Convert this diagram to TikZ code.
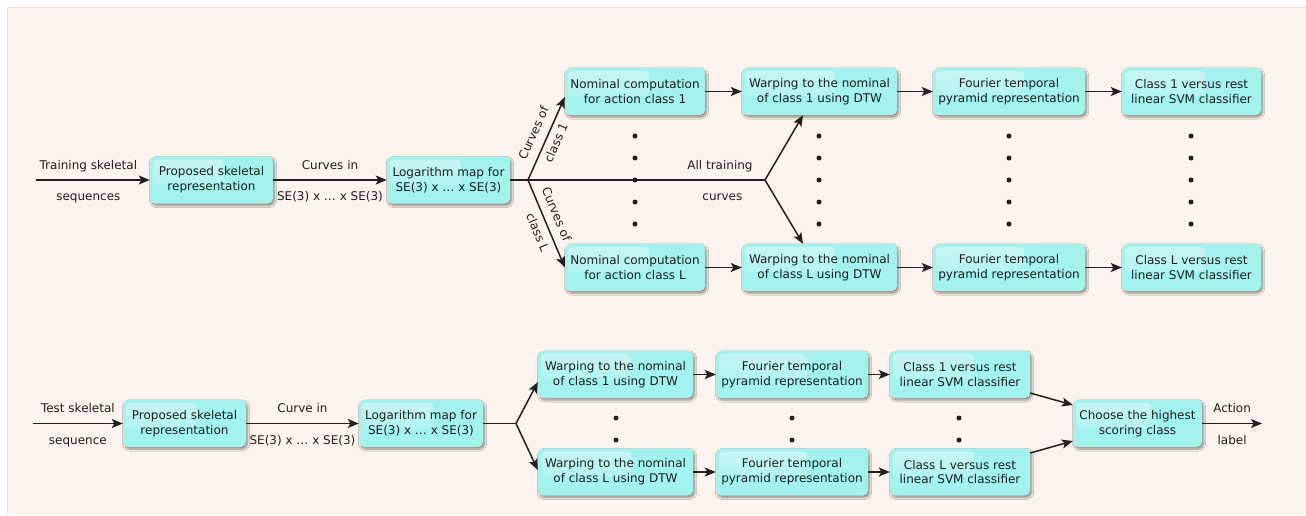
\documentclass[tikz,border=0pt]{standalone}
\usepackage{fontspec}
\setmainfont{DejaVu Sans}
\usetikzlibrary{arrows.meta,shadows.blur,calc}
\definecolor{bg}{HTML}{FDF3EE}
\definecolor{bgline}{HTML}{F4DED5}
\definecolor{boxfill}{HTML}{A2F2EE}
\definecolor{boxhi}{HTML}{C8F6F3}
\definecolor{ink}{HTML}{231F20}
\definecolor{txt}{HTML}{1E1E1E}
\begin{document}
\begin{tikzpicture}[x=1pt,y=-1pt,
  font=\fontsize{12pt}{14.7pt}\selectfont, text=txt,
  box/.style={rounded corners=5pt, fill=boxfill, align=center, inner sep=2pt, minimum height=47pt,
     blur shadow={shadow xshift=1.5pt, shadow yshift=-2pt, shadow blur steps=6, shadow opacity=45},
     path picture={\shade[top color=boxhi, bottom color=boxfill, rounded corners=4pt]
        ([shift={(3,3)}]path picture bounding box.north west) rectangle
        ($(path picture bounding box.north west)!0.6!(path picture bounding box.south east)$);}},
  conn/.style={draw=ink, line width=1.5pt, -{Stealth[length=11pt,width=9pt,inset=2.5pt]}},
  plain/.style={draw=ink, line width=1.5pt},
  lbl/.style={inner sep=0pt, text height=9pt, text depth=3pt, text=txt},
  slab/.style={lbl, sloped, inner ysep=#1},
  dot/.style={circle, fill=ink, inner sep=0pt, minimum size=5pt},
]
\useasboundingbox (0,0) rectangle (1306,515);
\fill[bg] (7,7) rectangle (1306,515);
\draw[bgline, line width=0.8pt] (1306,7) -- (7,7) -- (7,515);

% ---------------- top row ----------------
\node[box, minimum width=123pt] (P1) at (211.5,180) {Proposed skeletal\\representation};
\node[box, minimum width=123pt] (L1) at (448.5,180) {Logarithm map for\\SE(3) x … x SE(3)};
\node[box, minimum width=140pt] (N1) at (635,91.5) {Nominal computation\\for action class 1};
\node[box, minimum width=140pt] (NL) at (635,267.5) {Nominal computation\\for action class L};
\node[box, minimum width=155pt] (W1) at (819.5,91.5) {Warping to the nominal\\of class 1 using DTW};
\node[box, minimum width=155pt] (WL) at (819.5,267.5) {Warping to the nominal\\of class L using DTW};
\node[box, minimum width=152pt] (F1) at (1009,91.5) {Fourier temporal\\pyramid representation};
\node[box, minimum width=152pt] (FL) at (1009,267.5) {Fourier temporal\\pyramid representation};
\node[box, minimum width=139pt] (C1) at (1191.5,91.5) {Class 1 versus rest\\linear SVM classifier};
\node[box, minimum width=139pt] (CL) at (1191.5,267.5) {Class L versus rest\\linear SVM classifier};

\coordinate (in1) at (36,180);
\coordinate (b1) at (528,180);
\coordinate (b2) at (765,180);

\draw[conn] (in1) -- node[lbl, pos=0.46, above=7pt]{Training skeletal} node[lbl, pos=0.46, below=11pt]{sequences} (P1);
\draw[conn] (P1) -- node[lbl, above=7pt]{Curves in} node[lbl, below=11pt]{SE(3) x … x SE(3)} (L1);
\draw[plain] (L1.east) -- (b1);
\draw[plain] (b1) -- node[lbl, pos=0.81, above=7pt]{All training} node[lbl, pos=0.82, below=11pt]{curves} (b2);
\draw[conn] (b1) -- node[slab=6pt, anchor=south]{Curves of} node[slab=5pt, anchor=north]{class 1} ([yshift=-5.5pt]N1.west);
\draw[conn] (b1) -- node[slab=5pt, anchor=south, pos=0.45]{Curves of} node[slab=6pt, anchor=north, pos=0.55]{class L} (NL.west);
\draw[conn] (b2) -- ([xshift=-16.5pt]W1.south);
\draw[conn] (b2) -- ([xshift=-16.5pt]WL.north);
\draw[conn] (N1) -- (W1);
\draw[conn] (W1) -- (F1);
\draw[conn] (F1) -- (C1);
\draw[conn] (NL) -- (WL);
\draw[conn] (WL) -- (FL);
\draw[conn] (FL) -- (CL);

\foreach \x/\n in {635/a,819/b,1009/c,1191/d}
  \foreach \y [count=\i] in {136,158,180,202,224}
    \node[dot] (t\n\i) at (\x,\y) {};

% ---------------- bottom row ----------------
\node[box, minimum width=123pt] (P2) at (184.5,423.5) {Proposed skeletal\\representation};
\node[box, minimum width=124pt] (L2) at (421,423.5) {Logarithm map for\\SE(3) x … x SE(3)};
\node[box, minimum width=155pt] (V1) at (615.5,374.5) {Warping to the nominal\\of class 1 using DTW};
\node[box, minimum width=155pt] (VL) at (615.5,472) {Warping to the nominal\\of class L using DTW};
\node[box, minimum width=152pt] (G1) at (792,374.5) {Fourier temporal\\pyramid representation};
\node[box, minimum width=152pt] (GL) at (792,472) {Fourier temporal\\pyramid representation};
\node[box, minimum width=140pt] (S1) at (960,374.5) {Class 1 versus rest\\linear SVM classifier};
\node[box, minimum width=140pt] (SL) at (960,472) {Class L versus rest\\linear SVM classifier};
\node[box, minimum width=129pt] (CH) at (1137.5,423.5) {Choose the highest\\scoring class};

\coordinate (in2) at (33,423.5);
\coordinate (b3) at (516,423.5);
\coordinate (out) at (1262,423.5);

\draw[conn] (in2) -- node[lbl, above=7pt]{Test skeletal} node[lbl, below=11pt]{sequence} (P2);
\draw[conn] (P2) -- node[lbl, above=7pt]{Curve in} node[lbl, below=11pt]{SE(3) x … x SE(3)} (L2);
\draw[plain] (L2.east) -- (b3);
\draw[conn] (b3) -- ([yshift=-7.5pt]V1.west);
\draw[conn] (b3) -- ([yshift=2pt]VL.west);
\draw[conn] (V1) -- (G1);
\draw[conn] (G1) -- (S1);
\draw[conn] (VL) -- (GL);
\draw[conn] (GL) -- (SL);
\draw[conn] ([yshift=-18.5pt]S1.east) -- ([yshift=18.5pt]CH.west);
\draw[conn] ([yshift=19pt]SL.east) -- ([yshift=-17.5pt]CH.west);
\draw[conn] (CH) -- node[lbl, above=7pt]{Action} node[lbl, below=11pt]{label} (out);

\foreach \x/\n in {616/a,792/b,959/c}
  \foreach \y [count=\i] in {418,440}
    \node[dot] (u\n\i) at (\x,\y) {};
\end{tikzpicture}
\end{document}
